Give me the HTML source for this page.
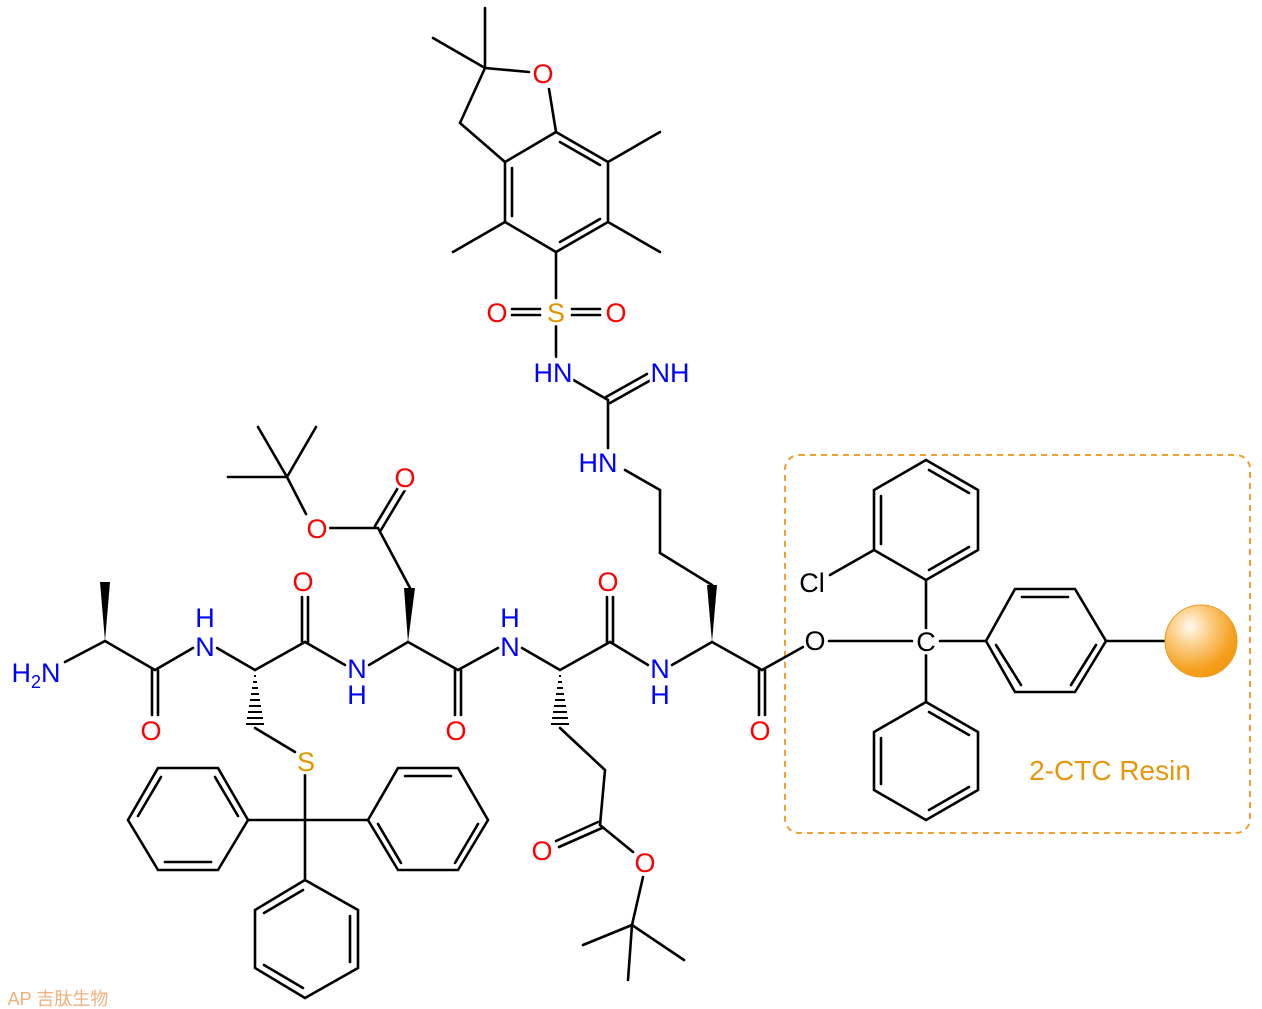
<!DOCTYPE html>
<html><head><meta charset="utf-8"><style>
html,body{margin:0;padding:0;background:#fff}
svg{display:block}
text{font-family:"Liberation Sans",Arial,sans-serif;font-size:27px;text-anchor:middle;paint-order:stroke;stroke:#fff;stroke-width:6px}
.r{fill:#f00}.b{fill:#00f}.s{fill:#e69500}.k{fill:#000}
</style></head><body>
<svg width="1262" height="1009" viewBox="0 0 1262 1009" xmlns="http://www.w3.org/2000/svg">
<defs>
<radialGradient id="g" cx="0.35" cy="0.3" r="0.75">
<stop offset="0" stop-color="#fffaf2"/><stop offset="0.35" stop-color="#fcd08a"/><stop offset="0.8" stop-color="#f5a020"/><stop offset="1" stop-color="#f29a10"/>
</radialGradient>
</defs>
<rect x="785" y="455" width="465" height="378" rx="14" fill="none" stroke="#f0a030" stroke-width="2" stroke-dasharray="6,5"/>
<g stroke="#000" stroke-width="2.6" fill="none" stroke-linecap="round">
<line x1="65" y1="662" x2="105" y2="641"/>
<line x1="105" y1="641" x2="155" y2="670"/>
<line x1="152" y1="670" x2="152" y2="715"/><line x1="158" y1="670" x2="158" y2="715"/>
<line x1="155" y1="670" x2="193" y2="648"/>
<line x1="217" y1="648" x2="255" y2="670"/>
<line x1="255" y1="728" x2="295" y2="752"/>
<line x1="305" y1="775" x2="305" y2="880"/>
<line x1="248" y1="820" x2="368" y2="820"/>
<line x1="255" y1="670" x2="305" y2="642"/>
<line x1="302" y1="642" x2="302" y2="597"/><line x1="308" y1="642" x2="308" y2="597"/>
<line x1="305" y1="642" x2="345" y2="665"/>
<line x1="369" y1="665" x2="408" y2="642"/>
<line x1="410" y1="588" x2="378" y2="528"/>
<line x1="375" y1="526" x2="399" y2="486"/><line x1="381" y1="530" x2="405" y2="490"/>
<line x1="378" y1="528" x2="330" y2="528"/>
<line x1="306" y1="514" x2="287" y2="477"/>
<line x1="287" y1="477" x2="228" y2="477"/><line x1="287" y1="477" x2="258" y2="427"/><line x1="287" y1="477" x2="316" y2="427"/>
<line x1="408" y1="642" x2="458" y2="670"/>
<line x1="455" y1="670" x2="455" y2="715"/><line x1="461" y1="670" x2="461" y2="715"/>
<line x1="458" y1="670" x2="498" y2="648"/>
<line x1="522" y1="648" x2="560" y2="670"/>
<line x1="560" y1="728" x2="605" y2="770"/>
<line x1="605" y1="770" x2="600" y2="825"/>
<line x1="598" y1="822" x2="556" y2="841"/><line x1="602" y1="828" x2="559" y2="847"/>
<line x1="600" y1="825" x2="633" y2="852"/>
<line x1="643" y1="877" x2="632" y2="925"/>
<line x1="632" y1="925" x2="583" y2="945"/><line x1="632" y1="925" x2="684" y2="960"/><line x1="632" y1="925" x2="628" y2="980"/>
<line x1="560" y1="670" x2="610" y2="642"/>
<line x1="607" y1="642" x2="607" y2="597"/><line x1="613" y1="642" x2="613" y2="597"/>
<line x1="610" y1="642" x2="648" y2="665"/>
<line x1="672" y1="665" x2="712" y2="642"/>
<line x1="712" y1="585" x2="660" y2="553"/>
<line x1="660" y1="553" x2="660" y2="490"/>
<line x1="660" y1="490" x2="625" y2="470"/>
<line x1="608" y1="448" x2="608" y2="400"/>
<line x1="608" y1="400" x2="570" y2="378"/>
<line x1="606" y1="397" x2="647" y2="374"/><line x1="610" y1="403" x2="651" y2="380"/>
<line x1="556" y1="357" x2="556" y2="326"/>
<line x1="540" y1="309" x2="512" y2="309"/><line x1="540" y1="315" x2="512" y2="315"/>
<line x1="572" y1="309" x2="600" y2="309"/><line x1="572" y1="315" x2="600" y2="315"/>
<line x1="556" y1="298" x2="556" y2="252"/>
<polygon points="556,252 608,222 608,162 556,132 505,162 505,222"/>
<line x1="560" y1="142" x2="600" y2="165"/><line x1="560" y1="242" x2="600" y2="219"/><line x1="512" y1="168" x2="512" y2="216"/>
<line x1="505" y1="222" x2="453" y2="252"/><line x1="608" y1="222" x2="660" y2="252"/><line x1="608" y1="162" x2="660" y2="132"/>
<line x1="556" y1="132" x2="549" y2="89"/>
<line x1="529" y1="72" x2="485" y2="68"/>
<line x1="485" y1="68" x2="460" y2="123"/><line x1="460" y1="123" x2="505" y2="162"/>
<line x1="485" y1="68" x2="485" y2="8"/><line x1="485" y1="68" x2="433" y2="38"/>
<line x1="712" y1="642" x2="762" y2="670"/>
<line x1="759" y1="670" x2="759" y2="715"/><line x1="765" y1="670" x2="765" y2="715"/>
<line x1="762" y1="670" x2="803" y2="647"/>
<line x1="829" y1="641" x2="912" y2="641"/>
<line x1="940" y1="641" x2="986" y2="641"/>
<line x1="926" y1="628" x2="926" y2="580"/>
<line x1="926" y1="655" x2="926" y2="702"/>
<line x1="874" y1="550" x2="830" y2="575"/>
<line x1="1106" y1="641" x2="1166" y2="641"/>
<polygon points="128,820 158,768 218,768 248,820 218,870 158,870"/>
<line x1="138" y1="816" x2="161" y2="777"/><line x1="215" y1="777" x2="238" y2="816"/><line x1="165" y1="862" x2="211" y2="862"/>
<polygon points="368,820 398,768 458,768 488,820 458,870 398,870"/>
<line x1="405" y1="776" x2="451" y2="776"/><line x1="478" y1="824" x2="455" y2="863"/><line x1="378" y1="824" x2="401" y2="863"/>
<polygon points="305,880 358,910 358,968 305,998 255,968 255,910"/>
<line x1="303" y1="890" x2="264" y2="913"/><line x1="350" y1="916" x2="350" y2="962"/><line x1="264" y1="965" x2="303" y2="988"/>
<polygon points="926,580 978,550 978,490 926,460 874,490 874,550"/>
<line x1="929" y1="470" x2="969" y2="493"/><line x1="881" y1="496" x2="881" y2="544"/><line x1="969" y1="547" x2="929" y2="570"/>
<polygon points="986,641 1015,589 1075,589 1106,641 1075,692 1015,692"/>
<line x1="1022" y1="597" x2="1068" y2="597"/><line x1="1096" y1="645" x2="1071" y2="685"/><line x1="996" y1="645" x2="1021" y2="685"/>
<polygon points="926,702 978,732 978,790 926,820 874,790 874,732"/>
<line x1="929" y1="712" x2="969" y2="735"/><line x1="881" y1="738" x2="881" y2="784"/><line x1="969" y1="787" x2="929" y2="810"/>
</g>
<g fill="#000">
<polygon points="105,641 100,582 110,582"/>
<polygon points="408,642 404,588 415,588"/>
<polygon points="712,642 707,585 717,585"/>
</g>
<g stroke="#000" stroke-width="2">
<line x1="254" y1="676" x2="256" y2="676"/><line x1="253" y1="682" x2="257" y2="682"/><line x1="252" y1="688" x2="258" y2="688"/><line x1="251" y1="694" x2="259" y2="694"/><line x1="250" y1="700" x2="260" y2="700"/><line x1="249" y1="706" x2="261" y2="706"/><line x1="248" y1="712" x2="262" y2="712"/><line x1="247" y1="718" x2="263" y2="718"/><line x1="246" y1="724" x2="264" y2="724"/>
<line x1="559" y1="676" x2="561" y2="676"/><line x1="558" y1="682" x2="562" y2="682"/><line x1="557" y1="688" x2="563" y2="688"/><line x1="556" y1="694" x2="564" y2="694"/><line x1="555" y1="700" x2="565" y2="700"/><line x1="554" y1="706" x2="566" y2="706"/><line x1="553" y1="712" x2="567" y2="712"/><line x1="552" y1="718" x2="568" y2="718"/><line x1="551" y1="724" x2="569" y2="724"/>
</g>
<circle cx="1201" cy="641" r="36" fill="url(#g)" stroke="#eb9a20" stroke-width="1"/>
<text x="36" y="682" class="b">H<tspan font-size="18" dy="6">2</tspan><tspan dy="-6">N</tspan></text>
<text x="151" y="740" class="r">O</text>
<text x="205" y="627" class="b">H</text><text x="205" y="656" class="b">N</text>
<text x="306" y="771" class="s">S</text>
<text x="303" y="591" class="r">O</text>
<text x="357" y="678" class="b">N</text><text x="357" y="704" class="b">H</text>
<text x="405" y="487" class="r">O</text>
<text x="317" y="538" class="r">O</text>
<text x="456" y="740" class="r">O</text>
<text x="510" y="627" class="b">H</text><text x="510" y="656" class="b">N</text>
<text x="542" y="860" class="r">O</text>
<text x="645" y="872" class="r">O</text>
<text x="608" y="591" class="r">O</text>
<text x="660" y="678" class="b">N</text><text x="660" y="704" class="b">H</text>
<text x="598" y="472" class="b">HN</text>
<text x="553" y="382" class="b">HN</text>
<text x="670" y="382" class="b">NH</text>
<text x="556" y="322" class="s">S</text>
<text x="497" y="322" class="r">O</text>
<text x="616" y="322" class="r">O</text>
<text x="543" y="83" class="r">O</text>
<text x="760" y="740" class="r">O</text>
<text x="815" y="650" class="k">O</text>
<text x="926" y="651" class="k">C</text>
<text x="812" y="592" class="k">Cl</text>
<text x="1110" y="780" style="fill:#e8960c;stroke:none;font-size:28px">2-CTC Resin</text>
<text x="58" y="1005" style="fill:#f2b07a;stroke:none;font-size:18px;font-family:'Liberation Sans','Noto Sans CJK SC',sans-serif">AP 吉肽生物</text>
</svg>
</body></html>
